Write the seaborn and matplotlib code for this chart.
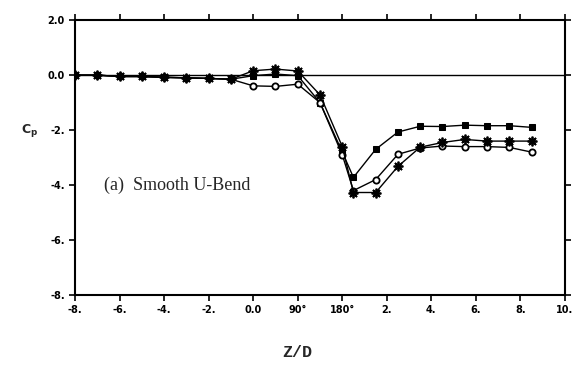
import matplotlib
matplotlib.use("Agg")
import matplotlib.pyplot as plt
import seaborn as sns

# x positions on the equally spaced plot axis (0.0 .. 90 .. 180 deg in the bend)
x_pos = [-8, -7, -6, -5, -4, -3, -2, -1, 0, 1, 2, 3, 4, 4.5,
         5.5, 6.5, 7.5, 8.5, 9.5, 10.5, 11.5, 12.5]

cp_square = [0.0, 0.0, -0.05, -0.05, -0.08, -0.10, -0.12, -0.15, -0.02, 0.04, -0.02,
             -1.00, -2.80, -3.72, -2.70, -2.07, -1.86, -1.87, -1.82, -1.84, -1.84, -1.90]
cp_circle = [0.0, 0.0, -0.05, -0.05, -0.08, -0.10, -0.12, -0.15, -0.39, -0.41, -0.33,
             -1.00, -2.90, -4.20, -3.80, -2.88, -2.65, -2.58, -2.60, -2.60, -2.63, -2.80]
cp_star = [0.0, 0.0, -0.05, -0.05, -0.08, -0.10, -0.12, -0.15, 0.16, 0.22, 0.15,
           -0.72, -2.60, -4.27, -4.27, -3.32, -2.62, -2.45, -2.34, -2.40, -2.40, -2.40]

x_ticks = [-8, -6, -4, -2, 0, 2, 4, 6, 8, 10, 12, 14]
x_labels = ["-8.", "-6.", "-4.", "-2.", "0.0", "90°", "180°", "2.", "4.", "6.", "8.", "10."]
y_ticks = [2, 0, -2, -4, -6, -8]
y_labels = ["2.0", "0.0", "-2.", "-4.", "-6.", "-8."]

sns.set_style("ticks")
plt.rcParams["font.family"] = ["DejaVu Sans"]

fig = plt.figure(figsize=(5.73, 3.73), dpi=100)
ax = fig.add_axes([0.131, 0.209, 0.855, 0.737])

ax.axhline(0, color="black", linewidth=1.0, zorder=1)

sns.lineplot(x=x_pos, y=cp_square, ax=ax, color="black", linewidth=1.0,
             marker="s", markersize=5, markerfacecolor="black",
             markeredgecolor="black", zorder=3)
sns.lineplot(x=x_pos, y=cp_circle, ax=ax, color="black", linewidth=1.0,
             marker="o", markersize=4.5, markerfacecolor="white",
             markeredgecolor="black", markeredgewidth=1.3, zorder=3)
sns.lineplot(x=x_pos, y=cp_star, ax=ax, color="black", linewidth=1.0,
             marker=(8, 2, 0), markersize=7, markeredgecolor="black",
             markeredgewidth=1.3, zorder=4)

ax.set_xlim(-8, 14)
ax.set_ylim(-8, 2)
ax.set_xticks(x_ticks)
ax.set_xticklabels(x_labels, fontsize=7, fontweight="bold")
ax.set_yticks(y_ticks)
ax.set_yticklabels(y_labels, fontsize=7, fontweight="bold")
ax.tick_params(axis="both", direction="out", length=4, width=1.2, colors="black")
ax.tick_params(top=True, right=True)
ax.tick_params(labeltop=False, labelright=False)
for side in ["left", "right", "top", "bottom"]:
    ax.spines[side].set_visible(True)
    ax.spines[side].set_linewidth(1.5)
    ax.spines[side].set_color("black")
ax.set_xlabel("")
ax.set_ylabel("")

ax.text(-6.7, -4.0, "(a)  Smooth U-Bend", fontsize=13,
        family="Liberation Serif", va="center", ha="left")

fig.text(0.052, 0.651, "C$_\\mathregular{p}$", fontsize=9, fontweight="bold",
         ha="center", va="center")
fig.text(0.518, 0.056, "Z/D", fontsize=12, fontweight="bold",
         family="Liberation Mono", ha="center", va="center")

fig.savefig("out.png", dpi=100)
